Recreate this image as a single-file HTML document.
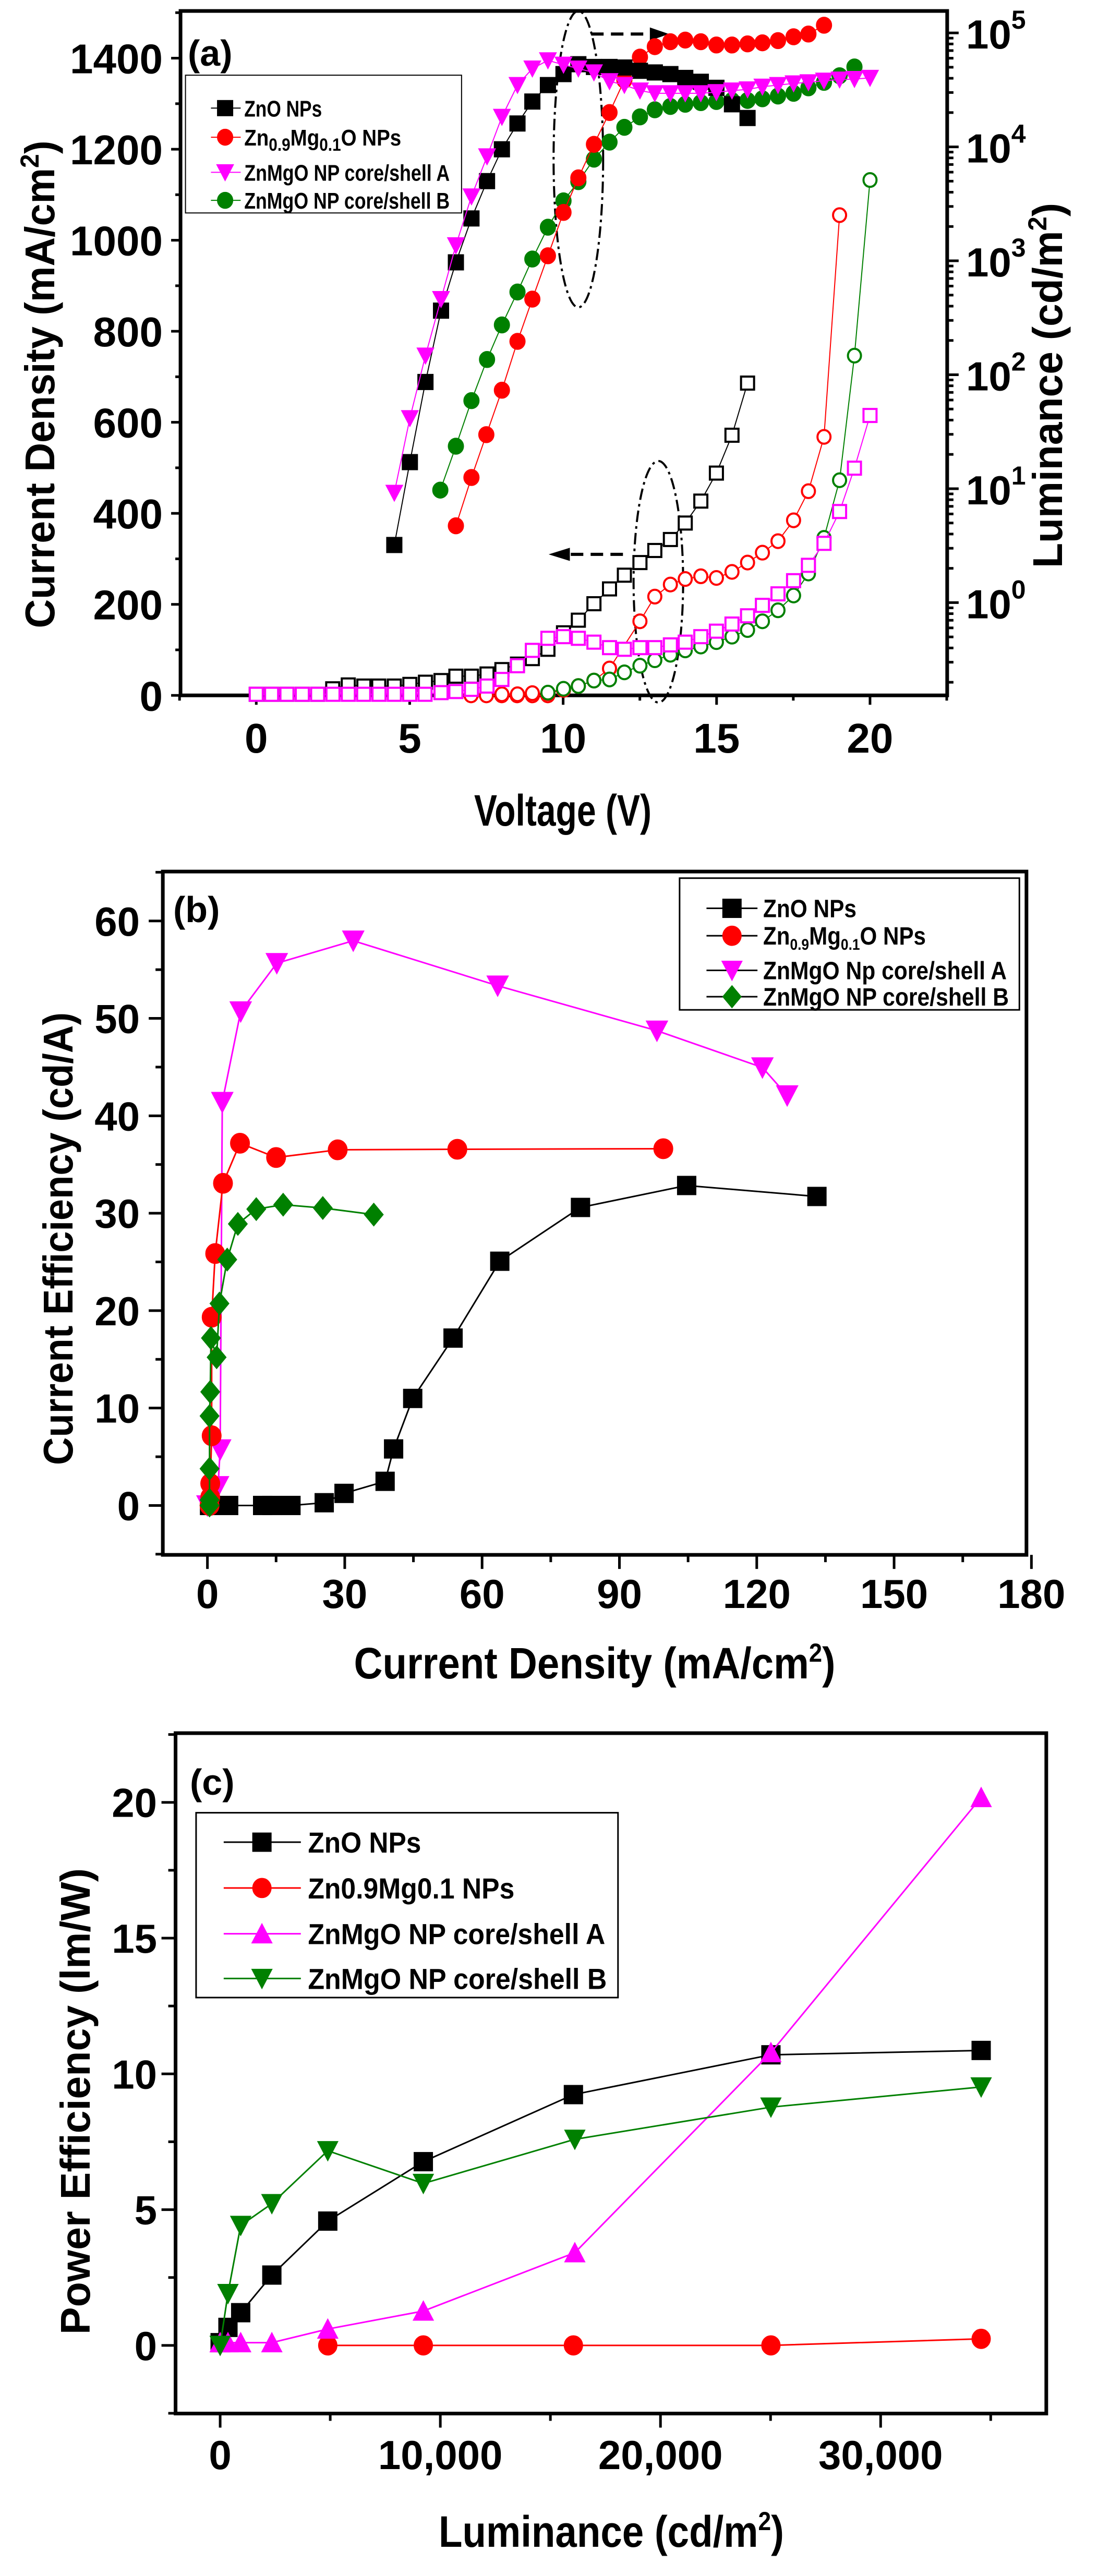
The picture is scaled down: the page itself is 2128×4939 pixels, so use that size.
<!DOCTYPE html>
<html><head><meta charset="utf-8"><style>
html,body{margin:0;padding:0;background:#fff;}
svg{display:block;}
text{font-family:"Liberation Sans",Arial,sans-serif;font-weight:bold;fill:#000;}
</style></head><body>
<svg id="s" xmlns="http://www.w3.org/2000/svg" width="2128" height="4939" viewBox="0 0 2128 4939"></svg>
<script>
const S=document.getElementById('s');
const NS='http://www.w3.org/2000/svg';
const SX=2128/1568;
const PA={off:0,sy:1650/1568},PB={off:1650,sy:1650/1568},PC={off:3300,sy:1639/1568};
function X(v){return v*SX;}
function Y(p,v){return p.off+v*p.sy;}
function el(t,a,parent){const e=document.createElementNS(NS,t);for(const k in a)e.setAttribute(k,a[k]);(parent||S).appendChild(e);return e;}
function line(x1,y1,x2,y2,w,c,extra){const a={x1,y1,x2,y2,stroke:c||'#000','stroke-width':w};Object.assign(a,extra||{});return el('line',a);}
function txt(x,y,s,fs,opt){opt=opt||{};const a={x,y,'font-size':fs};if(opt.anchor)a['text-anchor']=opt.anchor;if(opt.len){a.textLength=opt.len;a.lengthAdjust='spacingAndGlyphs';}if(opt.tr)a.transform=opt.tr;const e=el('text',a);e.innerHTML=s;return e;}
function marker(type,x,y,sz,col,open){
  const h=sz/2;let e;
  const f=open?'#fff':col, st=open?col:col, sw=open?4:1;
  if(type=='sq')e=el('rect',{x:x-h,y:y-h,width:sz,height:sz,fill:f,stroke:st,'stroke-width':sw});
  else if(type=='ci')e=el('ellipse',{cx:x,cy:y,rx:h,ry:h*1.05,fill:f,stroke:st,'stroke-width':sw});
  else if(type=='td')e=el('polygon',{points:`${x-h*1.1},${y-h} ${x+h*1.1},${y-h} ${x},${y+h*1.1}`,fill:f,stroke:st,'stroke-width':sw});
  else if(type=='tu')e=el('polygon',{points:`${x-h*1.1},${y+h} ${x+h*1.1},${y+h} ${x},${y-h*1.1}`,fill:f,stroke:st,'stroke-width':sw});
  else if(type=='di')e=el('polygon',{points:`${x},${y-h*1.2} ${x+h},${y} ${x},${y+h*1.2} ${x-h},${y}`,fill:f,stroke:st,'stroke-width':sw});
  return e;
}
function series(p,pts,type,col,sz,open,lw){
  const q=pts.map(a=>[X(a[0]),Y(p,a[1])]);
  el('polyline',{points:q.map(a=>a.join(',')).join(' '),fill:'none',stroke:col,'stroke-width':lw||3});
  q.forEach(a=>marker(type,a[0],a[1],sz,col,open));
}
function box(p,l,t,r,b,w){el('rect',{x:X(l),y:Y(p,t),width:X(r)-X(l),height:Y(p,b)-Y(p,t),fill:'none',stroke:'#000','stroke-width':w||7});}

/* ================= Panel A ================= */
(function(){
const p=PA;
box(p,255,20,1338,1267,7);
const L=X(255),R=X(1338),B=Y(p,1267);
for(let v=0;v<=1500;v+=100){const y=Y(p,1267-v*(1267-106)/1400);if(y<Y(p,20)-1)break;line(L,y,L-(v%200==0?18:10),y,5);}
[0,200,400,600,800,1000,1200,1400].forEach(v=>{const y=Y(p,1267-v*(1267-106)/1400);txt(312,y+29,v,80,{anchor:'end'});});
for(let v=-2.5;v<=22.5;v+=2.5){const x=X(362+v*43.35);line(x,B,x,B+(v%5==0?18:10),5);}
[0,5,10,15,20].forEach(v=>txt(X(362+v*43.35),1443,v,80,{anchor:'middle'}));
const dec=207.6;
for(let d=-1;d<=5;d++){for(let m=1;m<10;m++){const lv=d+Math.log10(m);const yz=1098-lv*dec;if(yz<20||yz>1267)continue;const y=Y(p,yz);line(R,y,R+(m==1?22:12),y,5);}}
[0,1,2,3,4,5].forEach(d=>{const y=Y(p,1098-d*dec);const t=txt(1852,y+30,'10',78);el('tspan',{dy:-38,'font-size':50},t).textContent=d;});
txt(0,0,'Current Density (mA/cm<tspan dy="-30" font-size="50">2</tspan><tspan dy="30">)</tspan>',80,{anchor:'middle',len:935,tr:'translate(104,737) rotate(-90)'});
txt(0,0,'Luminance (cd/m<tspan dy="-30" font-size="50">2</tspan><tspan dy="30">)</tspan>',80,{anchor:'middle',len:700,tr:'translate(2036,739) rotate(-90)'});
txt(1079,1583,'Voltage (V)',84,{anchor:'middle',len:340});
txt(360,126,'(a)',70);
el('ellipse',{cx:X(817),cy:Y(p,290),rx:X(35),ry:270*p.sy,fill:'none',stroke:'#000','stroke-width':4,'stroke-dasharray':'22,8,5,8'});
el('ellipse',{cx:X(930),cy:Y(p,1060),rx:X(35),ry:220*p.sy,fill:'none',stroke:'#000','stroke-width':4,'stroke-dasharray':'22,8,5,8'});
line(X(835),Y(p,62),X(920),Y(p,62),6,'#000',{'stroke-dasharray':'24,14'});
el('polygon',{points:`${X(918)},${Y(p,50)} ${X(945)},${Y(p,62)} ${X(918)},${Y(p,74)}`,fill:'#000'});
line(X(880),Y(p,1010),X(805),Y(p,1010),6,'#000',{'stroke-dasharray':'24,14'});
el('polygon',{points:`${X(805)},${Y(p,998)} ${X(775)},${Y(p,1010)} ${X(805)},${Y(p,1022)}`,fill:'#000'});
const xs=v=>362+v*43.35;
const zf=[[557,993],[579,842],[601,696],[623,566],[644,478],[666,398],[688,330],[709,272],[731,225],[752,185],[774,155],[796,135],[817,117],[839,122],[861,122],[882,123],[904,129],[925,132],[947,135],[968,142],[990,149],[1012,160],[1034,190],[1056,215]];
const rf=[[644,958],[666,870],[687,792],[709,711],[731,622],[752,545],[774,466],[796,387],[817,324],[839,263],[861,205],[882,146],[904,104],[925,85],[947,76],[968,73],[990,76],[1012,82],[1034,82],[1056,80],[1077,78],[1099,74],[1121,67],[1142,62],[1164,46]];
const mf=[[557,898],[579,762],[601,648],[623,545],[644,447],[666,358],[688,285],[709,213],[731,155],[752,125],[774,110],[796,118],[817,125],[839,132],[861,148],[882,155],[904,165],[925,170],[947,170],[968,170],[990,170],[1012,168],[1034,165],[1056,163],[1077,158],[1099,155],[1121,152],[1142,150],[1164,147],[1186,145],[1207,144],[1229,142]];
const gf=[[622,893],[644,813],[666,730],[688,655],[709,592],[731,532],[752,472],[774,414],[796,366],[817,331],[839,290],[861,259],[882,232],[904,213],[925,200],[947,194],[968,190],[990,187],[1012,185],[1034,183],[1056,183],[1077,180],[1099,175],[1121,170],[1142,160],[1164,150],[1186,138],[1207,122]];
const zo=[];for(let i=0;i<=4;i++)zo.push([xs(i*0.5),1265]);
zo.push(...[[470,1255],[492,1248],[514,1250],[535,1250],[557,1250],[579,1247],[601,1243],[623,1240],[644,1232],[666,1232],[688,1228],[709,1220],[731,1210],[752,1200],[774,1183],[796,1153],[817,1130],[839,1100],[861,1073],[882,1048],[904,1025],[925,1003],[947,983],[968,953],[990,913],[1012,862],[1034,793],[1056,698]]);
const ro=[];for(let i=14;i<=19;i++)ro.push([xs(i*0.5),1267]);
ro.push(...[[709,1265],[731,1265],[752,1263],[774,1263],[796,1257],[817,1250],[839,1240],[861,1218],[904,1132],[925,1087],[947,1065],[968,1055],[990,1050],[1012,1053],[1034,1042],[1056,1025],[1077,1007],[1099,986],[1121,948],[1142,895],[1164,796],[1186,392]]);
const mo=[];for(let i=0;i<=11;i++)mo.push([xs(i*0.5),1265]);
mo.push(...[[623,1262],[644,1260],[666,1256],[688,1250],[709,1238],[731,1213],[752,1185],[774,1163],[796,1160],[817,1163],[839,1170],[861,1180],[882,1183],[904,1180],[925,1180],[947,1175],[968,1170],[990,1160],[1012,1150],[1034,1137],[1056,1122],[1077,1103],[1099,1082],[1121,1058],[1142,1030],[1164,990],[1186,932],[1207,853],[1229,757]]);
const go=[[774,1262],[796,1255],[817,1250],[839,1240],[861,1238],[882,1225],[904,1213],[925,1203],[947,1193],[968,1185],[990,1178],[1012,1170],[1034,1160],[1056,1148],[1077,1132],[1099,1112],[1121,1085],[1142,1045],[1164,980],[1186,875],[1207,648],[1229,328]];
series(p,zo,'sq','#000',25,true,2);
series(p,ro,'ci','#ff0000',25,true,2);
series(p,go,'ci','#008000',25,true,2);
series(p,mo,'sq','#ff00ff',25,true,2);
series(p,gf,'ci','#008000',30,false,2);
series(p,rf,'ci','#ff0000',30,false,2);
series(p,zf,'sq','#000',30,false,2);
series(p,mf,'td','#ff00ff',30,false,2);
box(p,262,137,652,388,2);
const ent=[[197,'sq','#000','ZnO NPs',149],[250,'ci','#ff0000','Zn<tspan font-size="34" dy="10">0.9</tspan><tspan dy="-10">Mg</tspan><tspan font-size="34" dy="10">0.1</tspan><tspan dy="-10">O NPs</tspan>',301],[314,'td','#ff00ff','ZnMgO NP core/shell A',394],[365,'ci','#008000','ZnMgO NP core/shell B',394]];
ent.forEach(e=>{const y=Y(p,e[0]);line(X(298),y,X(340),y,2,e[2]);marker(e[1],X(318),y,30,e[2],false);txt(X(345),y+16,e[3],44,{len:e[4]});});
})();

/* ================= Panel B ================= */
(function(){
const p=PB;
box(p,230,20,1450,1265,7);
const L=X(230),B=Y(p,1265);
const yv=v=>1175-v*17.75, xv=v=>293+v*6.4667;
for(let v=-5;v<=65;v+=5){const y=Y(p,yv(v));line(L,y,L-(v%10==0?27:14),y,5);}
[0,10,20,30,40,50,60].forEach(v=>txt(268,Y(p,yv(v))+28,v,78,{anchor:'end'}));
for(let v=0;v<=180;v+=15){const x=X(xv(v));line(x,B,x,B+(v%30==0?27:14),5);}
[0,30,60,90,120,150,180].forEach(v=>txt(X(xv(v)),3083,v,78,{anchor:'middle'}));
txt(0,0,'Current Efficiency (cd/A)',80,{anchor:'middle',len:868,tr:'translate(139,2375) rotate(-90)'});
txt(1140,3218,'Current Density (mA/cm<tspan dy="-32" font-size="50">2</tspan><tspan dy="32">)</tspan>',84,{anchor:'middle',len:923});
txt(332,1768,'(b)',70);
const zn=[[296,1175],[323,1175],[371,1175],[384,1175],[411,1175],[458,1170],[486,1153],[544,1131],[556,1072],[583,980],[640,870],[706,730],[820,632],[970,592],[1154,612]];
const rd=[[296,1175],[297,1160],[297,1135],[299,1048],[299,832],[304,716],[315,588],[339,515],[390,541],[477,527],[646,526],[937,525]];
const mg=[[293,1175],[301,1155],[308,1140],[311,1073],[314,440],[340,275],[391,187],[499,146],[703,228],[928,310],[1077,377],[1112,428]];
const gr=[[296,1175],[296,1165],[296,1108],[296,1012],[297,968],[298,870],[306,905],[310,807],[321,727],[336,662],[362,635],[400,627],[456,633],[528,645]];
series(p,zn,'sq','#000',36,false,3);
series(p,mg,'td','#ff00ff',38,false,3);
series(p,rd,'ci','#ff0000',37,false,3);
series(p,gr,'di','#008000',37,false,3);
box(p,960,32,1440,272,3);
const ent=[[87,'sq','#000','ZnO NPs',179],[137,'ci','#ff0000','Zn<tspan font-size="30" dy="10">0.9</tspan><tspan dy="-10">Mg</tspan><tspan font-size="30" dy="10">0.1</tspan><tspan dy="-10">O NPs</tspan>',312],[200,'td','#ff00ff','ZnMgO Np core/shell A',467],[248,'di','#008000','ZnMgO NP core/shell B',471]];
ent.forEach(e=>{const y=Y(p,e[0]);line(X(998),y,X(1070),y,3,'#000');marker(e[1],X(1034),y,36,e[2],false);txt(X(1078),y+17,e[3],48,{len:e[4]});});
})();

/* ================= Panel C ================= */
(function(){
const p=PC;
box(p,248,22,1478,1270,7);
const L=X(248),B=Y(p,1270);
const yv=v=>1145-v*49.8, xv=v=>311+v*0.0311;
for(let v=-2.5;v<=22.5;v+=2.5){const y=Y(p,yv(v));if(y<Y(p,22)-1||y>B+1)continue;line(L,y,L-(v%5==0?27:14),y,5);}
[0,5,10,15,20].forEach(v=>txt(301,Y(p,yv(v))+28,v,78,{anchor:'end'}));
for(let v=0;v<=35000;v+=5000){const x=X(xv(v));line(x,B,x,B+(v%10000==0?27:14),5);}
[[0,'0'],[10000,'10,000'],[20000,'20,000'],[30000,'30,000']].forEach(v=>txt(X(xv(v[0])),4734,v[1],78,{anchor:'middle'}));
txt(0,0,'Power Efficiency (lm/W)',80,{anchor:'middle',len:894,tr:'translate(172,4029) rotate(-90)'});
txt(1172,4883,'Luminance (cd/m<tspan dy="-32" font-size="50">2</tspan><tspan dy="32">)</tspan>',84,{anchor:'middle',len:662});
txt(364,3441,'(c)',70);
const zn=[[311,1140],[322,1112],[340,1085],[384,1016],[463,917],[598,808],[810,685],[1089,612],[1386,604]];
const rd=[[463,1145],[598,1145],[810,1145],[1089,1145],[1386,1133]];
const mg=[[311,1140],[322,1140],[340,1140],[384,1140],[463,1115],[598,1082],[812,975],[1089,608],[1386,140]];
const gr=[[311,1145],[322,1050],[340,925],[384,885],[463,788],[598,848],[812,767],[1089,708],[1386,671]];
series(p,zn,'sq','#000',36,false,3);
series(p,rd,'ci','#ff0000',36,false,3);
series(p,mg,'tu','#ff00ff',36,false,3);
series(p,gr,'td','#008000',36,false,3);
box(p,277,168,873,507,3);
const ent=[[222,'sq','#000','ZnO NPs',217],[306,'ci','#ff0000','Zn0.9Mg0.1 NPs',396],[390,'tu','#ff00ff','ZnMgO NP core/shell A',570],[472,'td','#008000','ZnMgO NP core/shell B',573]];
ent.forEach(e=>{const y=Y(p,e[0]);line(X(316),y,X(425),y,3,e[2]);marker(e[1],X(370),y,36,e[2],false);txt(X(435),y+20,e[3],56,{len:e[4]});});
})();
</script>
</body></html>
